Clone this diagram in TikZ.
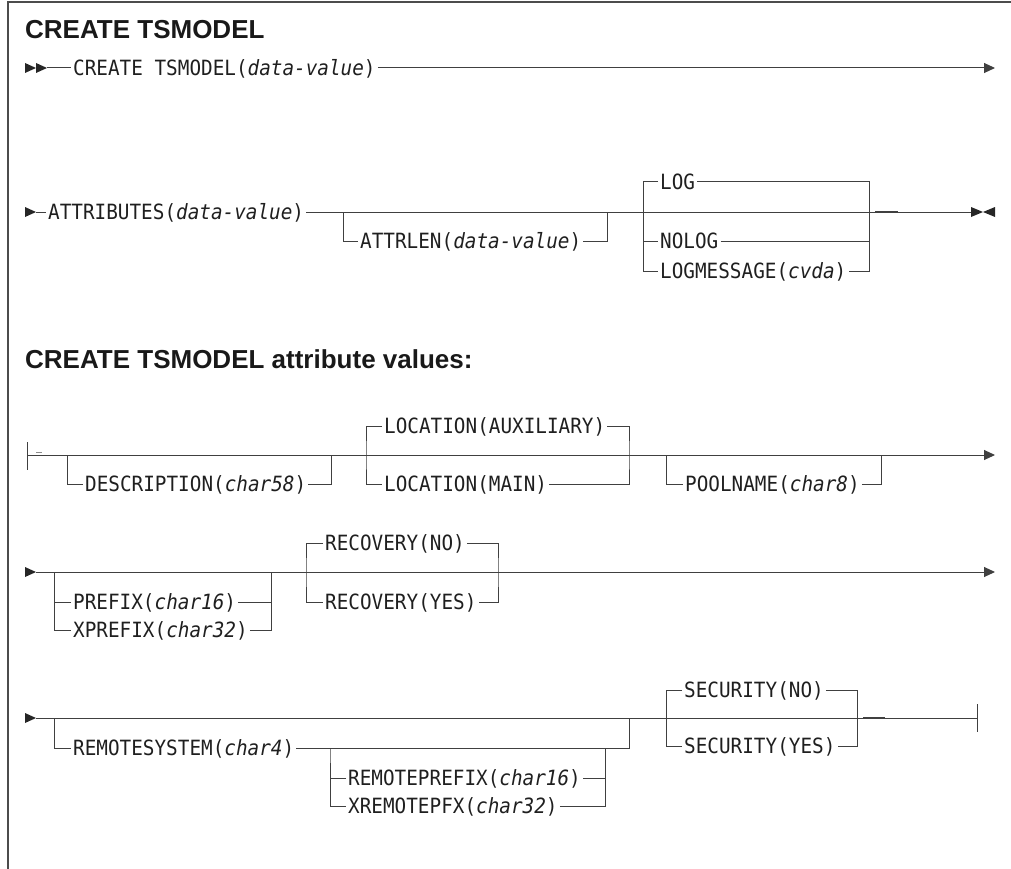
\documentclass[tikz,border=0pt]{standalone}
\usepackage{fontspec}
\setmainfont{Liberation Sans}
\newfontfamily\railfont[FakeStretch=0.92]{DejaVu Sans Mono}
\usetikzlibrary{arrows.meta}
\definecolor{railgray}{HTML}{404040}
\newcommand{\var}[1]{\textit{#1}}
\tikzset{
  rail/.style={
    line width=1pt,
    draw=railgray
  },
  railend/.style={
    rail,
    -{Triangle[length=11pt,width=10pt]}
  },
  tick/.style={
    line width=2pt,
    draw=railgray
  },
  kw/.style={
    anchor=west,
    inner xsep=2pt,
    inner ysep=0pt,
    text height=14.5pt,
    text depth=0pt,
    text=black!88,
    font=\railfont\fontsize{21}{24}\selectfont
  },
  heading/.style={
    anchor=base west,
    inner sep=0pt,
    text=black!90,
    font=\fontsize{26}{30}\selectfont\bfseries
  },
  frame/.style={
    line width=1.5pt,
    draw=black!70
  },
  onehead/.pic={\fill[black!85] (0,-5) -- (11,0) -- (0,5) -- cycle;},
  twohead/.pic={\fill[black!85] (0,-5) -- (11,0) -- (0,5) -- cycle
                                (11,-5) -- (22,0) -- (11,5) -- cycle;},
  stophead/.pic={\fill[black!85] (0,-5) -- (12,0) -- (0,5) -- cycle
                                 (24,-5) -- (12,0) -- (24,5) -- cycle;},
  endbar/.pic={\draw[rail] (0,-14) -- (0,14);}
}

\begin{document}
\begin{tikzpicture}[x=1pt,y=-1pt]
  \useasboundingbox (0,0) rectangle (1011,869);
  \draw[frame] (8,869) -- (8,2) -- (1011,2);

  \node[heading] (title) at (25,39) {CREATE TSMODEL};
  \node[heading] (attrtitle) at (25,368) {CREATE TSMODEL attribute values:};

  % first line
  \pic at (25,68) {twohead};
  \coordinate (r1a) at (47,68);
  \node[kw] (create) at (71,68) {CREATE TSMODEL(\var{data-value})};
  \coordinate (r1z) at (995,68);
  \draw[rail] (r1a) -- (create.west);
  \draw[railend] (create.east) -- (r1z);

  % second line
  \pic at (25,212) {onehead};
  \coordinate (r2a) at (36,212);
  \node[kw] (attrs) at (46,212) {ATTRIBUTES(\var{data-value})};
  \coordinate (r2b) at (343,212);
  \node[kw] (attrlen) at (358,241) {ATTRLEN(\var{data-value})};
  \coordinate (r2c) at (607,212);
  \coordinate (r2d) at (643,212);
  \node[kw] (log) at (658,182) {LOG};
  \node[kw] (nolog) at (658,241) {NOLOG};
  \node[kw] (logmsg) at (658,271) {LOGMESSAGE(\var{cvda})};
  \coordinate (r2e) at (869,212);
  \coordinate (r2z) at (971,212);
  \draw[rail] (r2a) -- (attrs.west);
  \draw[rail] (attrs.east) -- (r2z);
  \draw[rail] (r2b) |- (attrlen.west);
  \draw[rail] (attrlen.east) -| (r2c);
  \draw[rail] (log.west) -| (r2d) |- (logmsg.west);
  \draw[rail] (r2d) |- (nolog.west);
  \draw[rail] (log.east) -| (r2e) |- (logmsg.east);
  \draw[rail] (nolog.east) -- (nolog.east -| r2e);
  \draw[tick] (875,211.5) -- (898,211.5);
  \pic at (r2z) {stophead};

  % attribute values, first line
  \pic at (27,456) {endbar};
  \coordinate (r3a) at (27,455);
  \coordinate (r3b) at (67,455);
  \node[kw] (desc) at (83,484) {DESCRIPTION(\var{char58})};
  \coordinate (r3c) at (331,455);
  \coordinate (r3d) at (366,455);
  \node[kw] (locaux) at (382,426) {LOCATION(AUXILIARY)};
  \node[kw] (locmain) at (382,484) {LOCATION(MAIN)};
  \coordinate (r3e) at (629,455);
  \coordinate (r3f) at (666,455);
  \node[kw] (pool) at (683,484) {POOLNAME(\var{char8})};
  \coordinate (r3g) at (881,455);
  \coordinate (r3z) at (995,455);
  \draw[railend] (r3a) -- (r3z);
  \draw[rail, draw=black!45] (36,452.5) -- (42,452.5);
  \draw[rail] (r3b) |- (desc.west);
  \draw[rail] (desc.east) -| (r3c);
  \draw[rail] (locaux.west) -| (r3d) |- (locmain.west);
  \draw[rail] (locaux.east) -| (r3e) |- (locmain.east);
  \draw[rail] (r3f) |- (pool.west);
  \draw[rail] (pool.east) -| (r3g);

  % attribute values, second line
  \pic at (25,572) {onehead};
  \coordinate (r4a) at (36,572);
  \coordinate (r4b) at (54,572);
  \node[kw] (prefix) at (71,602) {PREFIX(\var{char16})};
  \node[kw] (xprefix) at (71,630) {XPREFIX(\var{char32})};
  \coordinate (r4c) at (271,572);
  \coordinate (r4d) at (306,572);
  \node[kw] (recno) at (323,543) {RECOVERY(NO)};
  \node[kw] (recyes) at (323,602) {RECOVERY(YES)};
  \coordinate (r4e) at (498,572);
  \coordinate (r4z) at (995,572);
  \draw[railend] (r4a) -- (r4z);
  \draw[rail] (r4b) |- (xprefix.west);
  \draw[rail] (prefix.west) -| (r4b);
  \draw[rail] (xprefix.east) -| (r4c);
  \draw[rail] (prefix.east) -| (r4c);
  \draw[rail] (recno.west) -| (r4d) |- (recyes.west);
  \draw[rail] (recno.east) -| (r4e) |- (recyes.east);

  % attribute values, third line
  \pic at (25,718) {onehead};
  \coordinate (r5a) at (36,718);
  \coordinate (r5b) at (54,718);
  \node[kw] (remsys) at (71,748) {REMOTESYSTEM(\var{char4})};
  \coordinate (r5c) at (330,748);
  \node[kw] (rempre) at (346,778) {REMOTEPREFIX(\var{char16})};
  \node[kw] (xrem) at (346,806) {XREMOTEPFX(\var{char32})};
  \coordinate (r5d) at (605,748);
  \coordinate (r5e) at (629,718);
  \coordinate (r5f) at (666,718);
  \node[kw] (secno) at (682,690) {SECURITY(NO)};
  \node[kw] (secyes) at (682,746) {SECURITY(YES)};
  \coordinate (r5g) at (857,718);
  \coordinate (r5z) at (977,718);
  \draw[rail] (r5a) -- (r5z);
  \draw[rail] (r5b) |- (remsys.west);
  \draw[rail] (remsys.east) -| (r5e);
  \draw[rail] (rempre.west) -| (r5c) |- (xrem.west);
  \draw[rail] (rempre.east) -| (r5d);
  \draw[rail] (xrem.east) -| (r5d);
  \draw[rail] (secno.west) -| (r5f) |- (secyes.west);
  \draw[rail] (secno.east) -| (r5g) |- (secyes.east);
  \draw[tick] (863,717.5) -- (885,717.5);
  \pic at (r5z) {endbar};
\end{tikzpicture}
\end{document}
